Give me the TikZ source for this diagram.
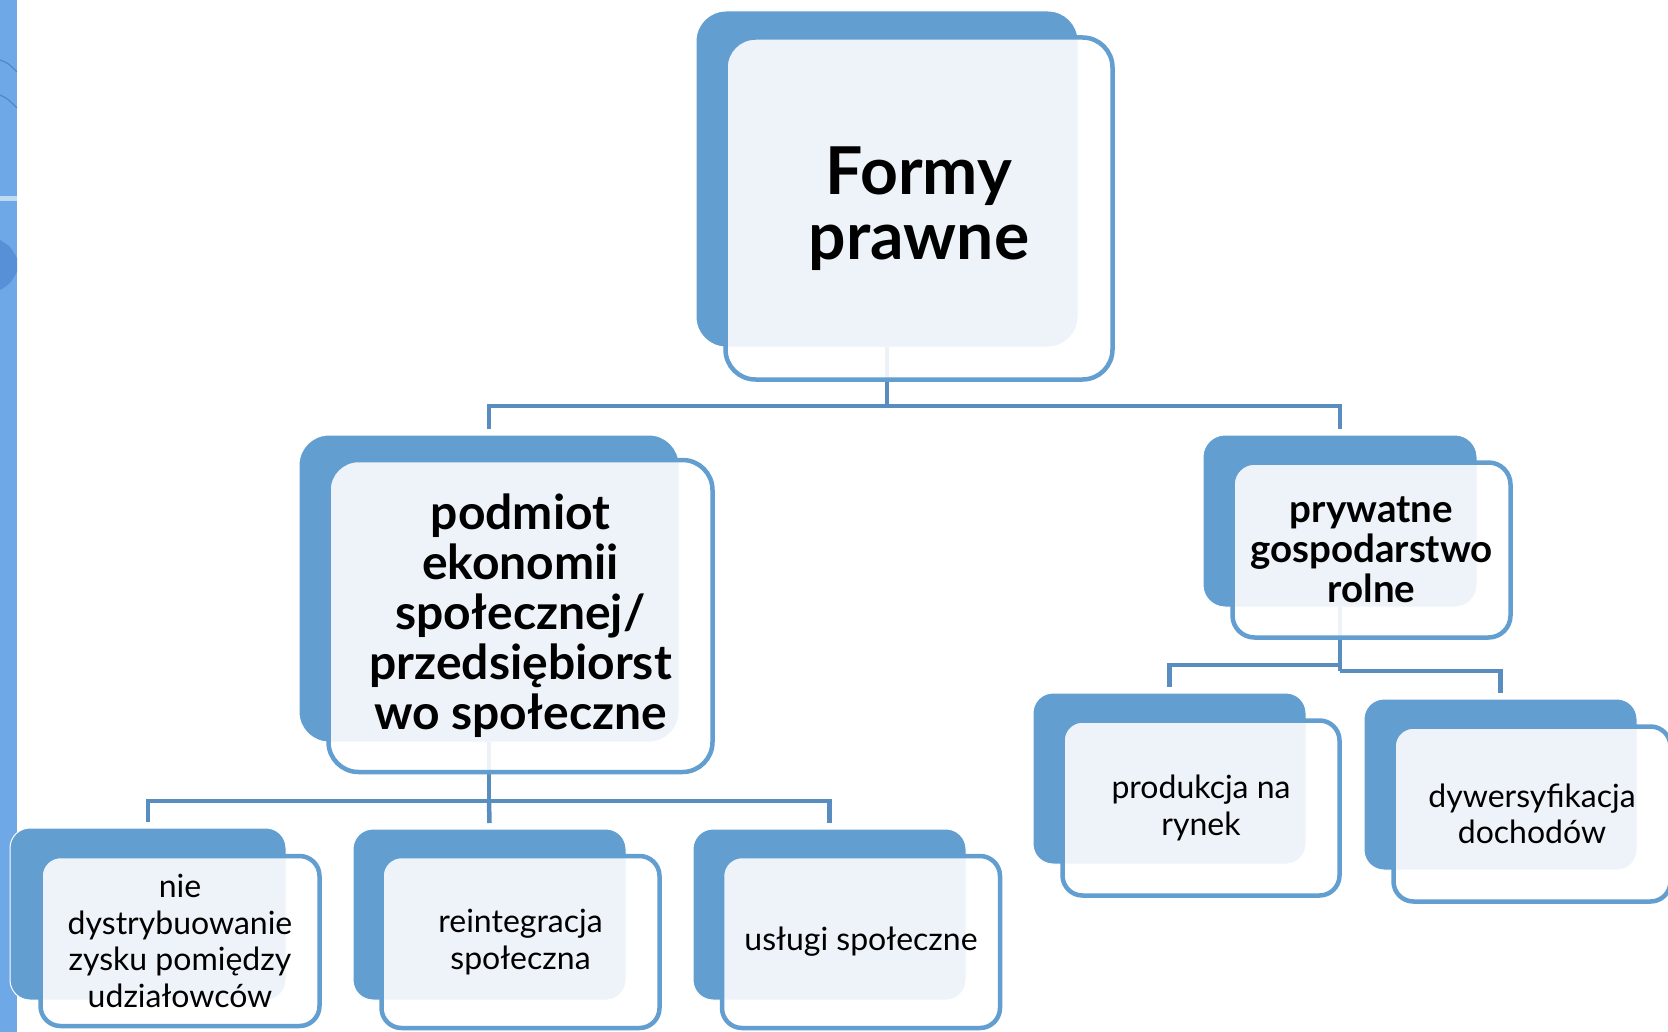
\documentclass[tikz,border=0pt]{standalone}
\usepackage{fontspec}
\setmainfont{Lato}
\definecolor{backblue}{HTML}{639ED1}
\definecolor{connblue}{HTML}{5A8DBF}
\definecolor{stripblue}{HTML}{6EA8E6}
\definecolor{stripdark}{HTML}{4F86D2}
\definecolor{striplight}{HTML}{BFDBF4}
\tikzset{
  backbox/.style={rectangle, fill=backblue, draw=white, line width=1pt, outer sep=0pt, inner sep=0pt},
  frontbox/.style={rectangle, draw=backblue, line width=4.5pt, fill=white, fill opacity=0.885, text opacity=1, outer sep=0pt, inner sep=0pt, align=center, text=black},
  conn/.style={draw=connblue, line width=4.5pt},
  bigbold/.style={font=\fontsize{66}{65}\selectfont\bfseries},
  midbold/.style={font=\fontsize{48}{50}\selectfont\bfseries},
  smallbold/.style={font=\fontsize{38.5}{40}\selectfont\bfseries},
  leaftext/.style={font=\fontsize{32}{36.5}\selectfont}
}
\begin{document}
\begin{tikzpicture}[x=1pt,y=-1pt]
\useasboundingbox (0,0) rectangle (1668,1032);
\clip (0,0) rectangle (1668,1032);
\fill[white] (0,0) rectangle (1668,1032);
% left decorative strip
\fill[stripblue] (0,0) rectangle (17,1032);
\begin{scope}
  \clip (0,0) rectangle (17,1032);
  \draw[stripdark, line width=1.2pt] (0,60) .. controls (8,63) .. (17,72);
  \draw[stripdark, line width=1.2pt] (0,95) .. controls (8,99) .. (17,108);
  \fill[striplight] (0,196) rectangle (17,201);
  \fill[stripdark!70!stripblue] (0,240) .. controls (10,246) .. (17,258) -- (17,272) .. controls (10,284) .. (0,290) -- cycle;
\end{scope}

% back boxes
\node[backbox, rounded corners=30pt, minimum width=382pt, minimum height=336pt] (bTop) at (887,179) {};
\node[backbox, rounded corners=30pt, minimum width=380pt, minimum height=307pt] (bML) at (489,588.5) {};
\node[backbox, rounded corners=22pt, minimum width=274pt, minimum height=172pt] (bMR) at (1340,521) {};
\node[backbox, rounded corners=20pt, minimum width=273pt, minimum height=171pt] (bP) at (1169.5,778.5) {};
\node[backbox, rounded corners=20pt, minimum width=273pt, minimum height=171pt] (bD) at (1500.5,784.5) {};
\node[backbox, rounded corners=20pt, minimum width=276pt, minimum height=172pt] (bA) at (148,914) {};
\node[backbox, rounded corners=20pt, minimum width=273pt, minimum height=171pt] (bB) at (489.5,914.5) {};
\node[backbox, rounded corners=20pt, minimum width=273pt, minimum height=171pt] (bC) at (829.5,914.5) {};

% junction coordinates
\coordinate (j1) at (bTop.south |- 0,406);
\coordinate (j2) at (bML.south |- 0,801);
\coordinate (j3) at (bMR.south |- 0,665);
\coordinate (j4) at (bMR.south |- 0,671);

% connectors
\draw[conn] (bTop.south) -- (j1);
\draw[conn] ([yshift=6pt]bML.north) |- (j1) -| ([yshift=6pt]bMR.north);
\draw[conn] (bML.south) -- (j2);
\draw[conn] ([yshift=6pt]bA.north) |- (j2) -| ([yshift=6pt]bC.north);
\draw[conn] (j2) -- ([yshift=6pt]bB.north);
\draw[conn] (bMR.south) -- (j4);
\draw[conn] (j3) -| ([yshift=6pt]bP.north);
\draw[conn] (j4) -| ([yshift=6pt]bD.north);

% front boxes
\node[frontbox, bigbold, rounded corners=30pt, minimum width=387pt, minimum height=342pt] (fTop) at (919,208.5) {Formy\\prawne};
\node[frontbox, midbold, rounded corners=30pt, minimum width=384pt, minimum height=312pt] (fML) at (520.5,616) {podmiot\\ekonomii\\społecznej/\\przedsiębiorst\\wo społeczne};
\node[frontbox, smallbold, rounded corners=22pt, minimum width=278pt, minimum height=175pt] (fMR) at (1371.5,550) {prywatne\\gospodarstwo\\rolne};
\node[frontbox, leaftext, rounded corners=20pt, minimum width=277pt, minimum height=175pt] (fP) at (1201,808) {produkcja na\\rynek};
\node[frontbox, leaftext, rounded corners=20pt, minimum width=277pt, minimum height=175pt] (fD) at (1532,814) {dywersyfikacja\\dochodów};
\node[frontbox, leaftext, rounded corners=20pt, minimum width=279pt, minimum height=170pt] (fA) at (180,941) {nie\\dystrybuowanie\\zysku pomiędzy\\udziałowców};
\node[frontbox, leaftext, rounded corners=20pt, minimum width=278pt, minimum height=172pt] (fB) at (520.5,942) {reintegracja\\społeczna};
\node[frontbox, leaftext, rounded corners=20pt, minimum width=278pt, minimum height=172pt] (fC) at (861,942) {usługi społeczne};
\end{tikzpicture}
\end{document}
